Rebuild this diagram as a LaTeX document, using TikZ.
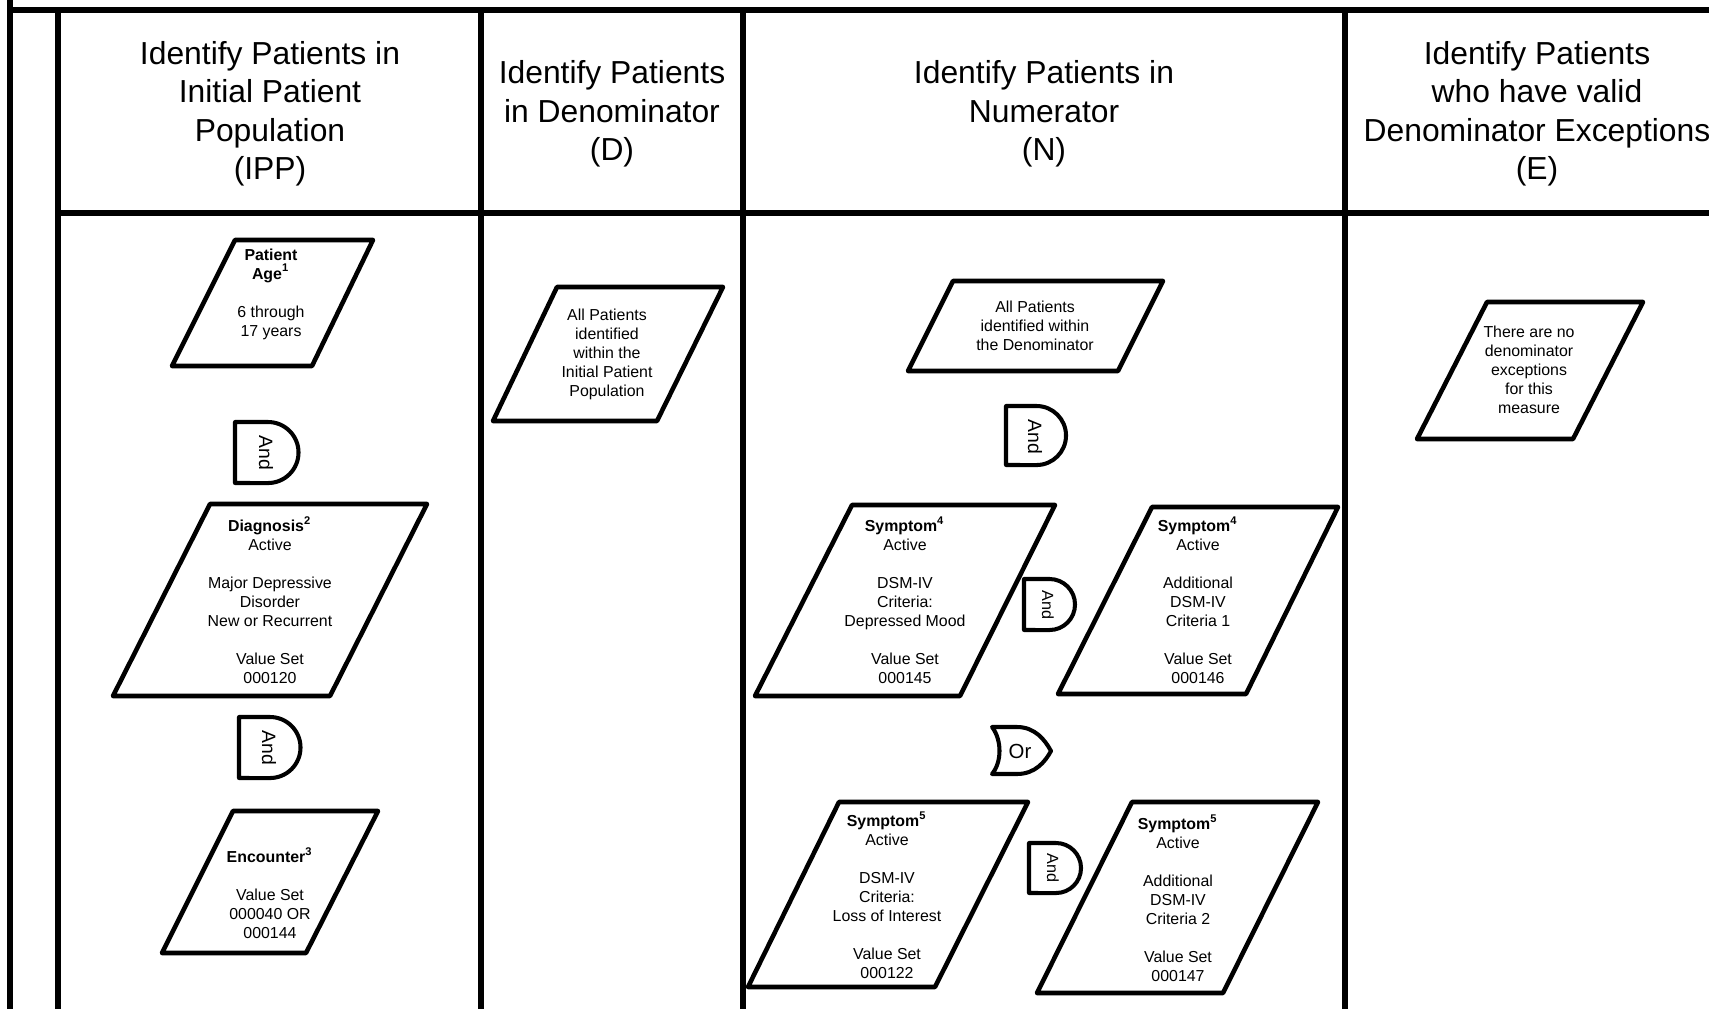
\documentclass[tikz,border=0pt]{standalone}
\usepackage{fontspec}
\setmainfont{Liberation Sans}

\begin{document}
\begin{tikzpicture}[x=0.01cm, y=0.01cm, rule/.style={line width=1.6pt}, box/.style={line width=1.3pt, line join=round}, gateline/.style={line width=1.15pt, line join=round}, head/.style={align=center, inner sep=0pt, font=\fontsize{9.05}{10.95}\selectfont}, txt/.style={align=center, inner sep=0pt, font=\fontsize{4.52}{5.41}\selectfont}, gate/.style={inner sep=0pt, rotate=-90, font=\fontsize{5.5}{6}\selectfont}, smallgate/.style={gate, font=\fontsize{4.6}{5}\selectfont}]
	\useasboundingbox (0,0) rectangle (1709,-1009);
	% table rules
	\draw[rule] (10,0) -- (10,-1009);
	\draw[rule] (10,-10) -- (1709,-10);
	\draw[rule] (58,-213) -- (1709,-213);
	\foreach \x in {58,481,743,1345}
		\draw[rule] (\x,-10) -- (\x,-1009);
	% headers
	\node[head] (hipp) at (270,-114) {Identify Patients in\\Initial Patient\\Population\\(IPP)};
	\node[head] (hden) at (612,-114) {Identify Patients\\in Denominator\\(D)};
	\node[head] (hnum) at (1044,-114) {Identify Patients in\\Numerator\\(N)};
	\node[head] (hexc) at (1537,-114) {Identify Patients\\who have valid\\Denominator Exceptions\\(E)};
	% initial patient population
	\draw[box] (235,-240) -- (373,-240) -- (312,-366) -- (172,-366) -- cycle;
	\node[txt] (age) at (271,-294) {\textbf{Patient}\\\textbf{Age\textsuperscript{1}}\\[5.41pt]6 through\\17 years};
	\draw[gateline] (235,-422) -- (268,-422) arc[start angle=90, end angle=-90, radius=0.305cm] -- (235,-483) -- cycle;
	\node[gate] (and1) at (266,-453) {And};
	\draw[box] (210,-504) -- (427,-504) -- (330,-696) -- (113,-696) -- cycle;
	\node[txt] (diag) at (270,-600) {\textbf{Diagnosis\textsuperscript{2}}\\Active\\[5.41pt]Major Depressive\\Disorder\\New or Recurrent\\[5.41pt]Value Set\\000120};
	\draw[gateline] (239,-717) -- (270,-717) arc[start angle=90, end angle=-90, radius=0.305cm] -- (239,-778) -- cycle;
	\node[gate] (and2) at (269,-748) {And};
	\draw[box] (233,-811) -- (378,-811) -- (306,-953) -- (162,-953) -- cycle;
	\node[txt] (enc) at (270,-893) {\textbf{Encounter\textsuperscript{3}}\\[5.41pt]Value Set\\000040 OR\\000144};
	% denominator
	\draw[box] (557,-287) -- (723,-287) -- (657,-421) -- (493,-421) -- cycle;
	\node[txt] (den) at (607,-354) {All Patients\\identified\\within the\\Initial Patient\\Population};
	% numerator
	\draw[box] (953,-281) -- (1163,-281) -- (1118,-371) -- (908,-371) -- cycle;
	\node[txt] (num) at (1035,-326) {All Patients\\identified within\\the Denominator};
	\draw[gateline] (1006,-406) -- (1036.5,-406) arc[start angle=90, end angle=-90, radius=0.295cm] -- (1006,-465) -- cycle;
	\node[gate] (and3) at (1035,-437) {And};
	\draw[box] (852,-505) -- (1055,-505) -- (960,-696) -- (755,-696) -- cycle;
	\node[txt] (mood) at (905,-600) {\textbf{Symptom\textsuperscript{4}}\\Active\\[5.41pt]DSM-IV\\Criteria:\\Depressed Mood\\[5.41pt]Value Set\\000145};
	\draw[gateline] (1024,-579) -- (1049.5,-579) arc[start angle=90, end angle=-90, radius=0.255cm] -- (1024,-630) -- cycle;
	\node[smallgate] (and4) at (1048,-605) {And};
	\draw[box] (1152,-507) -- (1338,-507) -- (1246,-694) -- (1058,-694) -- cycle;
	\node[txt] (crit1) at (1198,-600) {\textbf{Symptom\textsuperscript{4}}\\Active\\[5.41pt]Additional\\DSM-IV\\Criteria 1\\[5.41pt]Value Set\\000146};
	\draw[gateline] (992,-727) -- (1017,-727) .. controls (1035,-727) and (1045,-740) .. (1051,-751) .. controls (1045,-762) and (1035,-774) .. (1017,-774) -- (992,-774) .. controls (1002,-762) and (1002,-740) .. (992,-727) -- cycle;
	\node[inner sep=0pt, font=\fontsize{5.8}{6}\selectfont] (or1) at (1020,-751) {Or};
	\draw[box] (839,-802) -- (1028,-802) -- (935,-987) -- (748,-987) -- cycle;
	\node[txt] (loss) at (887,-895) {\textbf{Symptom\textsuperscript{5}}\\Active\\[5.41pt]DSM-IV\\Criteria:\\Loss of Interest\\[5.41pt]Value Set\\000122};
	\draw[gateline] (1029,-843) -- (1056,-843) arc[start angle=90, end angle=-90, radius=0.25cm] -- (1029,-893) -- cycle;
	\node[smallgate] (and5) at (1053,-868) {And};
	\draw[box] (1132,-802) -- (1318,-802) -- (1223,-993) -- (1037,-993) -- cycle;
	\node[txt] (crit2) at (1178,-898) {\textbf{Symptom\textsuperscript{5}}\\Active\\[5.41pt]Additional\\DSM-IV\\Criteria 2\\[5.41pt]Value Set\\000147};
	% exceptions
	\draw[box] (1487,-302) -- (1643,-302) -- (1573,-439) -- (1417,-439) -- cycle;
	\node[txt] (exc) at (1529,-370) {There are no\\denominator\\exceptions\\for this\\measure};
\end{tikzpicture}
\end{document}
